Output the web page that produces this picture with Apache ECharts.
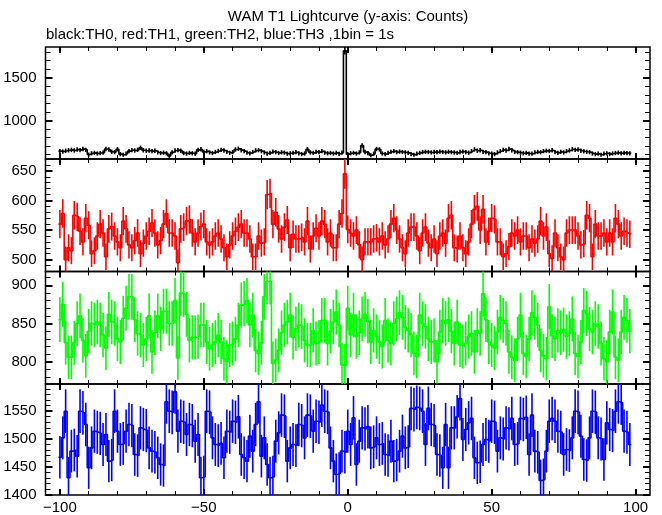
<!DOCTYPE html>
<html><head><meta charset="utf-8">
<script src="https://cdn.jsdelivr.net/npm/echarts@6/dist/echarts.min.js"></script>
<style>html,body{margin:0;padding:0;background:#fff}#c{width:662px;height:515px}</style>
</head><body><div id="c"></div>
<script>
// 1 bin = 1 s, first bin centre at -100 s
const binStart = -100;

// TH0 (black) counts per bin, bins -100 .. 98
const th0 = [
 640,635,645,650,655,648,660,652,665,655,
 600,615,620,612,618,622,665,660,632,628,
 662,605,598,610,640,652,648,655,680,650,
 645,648,640,645,625,618,622,615,585,625,
 648,652,645,618,612,620,615,610,655,662,
 630,640,625,618,630,642,655,648,632,620,
 628,660,668,650,640,622,
 615,630,648,652,640,625,612,620,635,628,
 618,626,622,610,615,620,628,615,605,612,
 662,625,620,632,628,640,622,615,618,612,
 620,608,622,1815,
 605,615,620,612,625,705,630,618,592,610,
 665,660,612,605,620,632,640,628,635,630,
 625,620,605,598,612,620,628,632,630,625,
 630,628,635,630,626,632,628,625,620,630,
 635,628,622,640,660,645,650,632,628,615,
 612,605,625,640,655,648,665,650,630,628,
 622,615,620,612,610,625,630,628,640,645,
 642,650,628,620,632,625,640,648,662,655,
 660,645,638,632,628,612,605,610,598,610,
 615,605,612,618,622,615,620,618,615
];
// TH1 (red)
const th1 = [
 560,578,500,520,515,575,572,548,530,570,
 558,510,515,540,560,545,505,552,556,540,
 530,520,565,552,525,520,532,545,510,528,
 540,548,562,545,525,532,560,578,545,545,
 540,495,552,555,565,568,545,530,545,556,
 560,530,525,530,540,545,535,520,505,525,
 540,548,555,560,545,545,
 535,505,505,540,528,530,610,612,560,580,
 552,535,555,567,520,543,535,535,538,530,
 565,518,540,553,540,565,560,530,545,520,
 520,560,578,645,
 551,545,540,550,525,500,530,530,530,535,
 537,530,540,525,535,560,570,550,535,520,
 510,545,555,555,540,515,545,555,528,520,
 535,510,540,545,528,570,575,520,518,540,
 520,510,530,560,585,590,550,585,530,548,
 570,568,530,530,505,510,522,545,540,550,
 530,540,540,520,535,528,535,565,540,555,
 510,502,545,520,505,500,545,550,550,550,
 540,525,527,575,570,505,560,540,540,545,
 530,545,530,570,560,540,548,545,543
];
// TH2 (green)
const th2 = [
 855,875,825,806,806,825,850,860,828,808,
 840,850,848,852,848,835,818,862,852,850,
 830,826,857,870,885,885,855,837,835,822,
 830,860,813,838,860,843,866,866,850,850,
 880,805,890,888,862,828,832,832,833,848,
 848,826,817,822,826,835,826,804,800,822,
 824,830,848,874,876,880,
 848,861,815,811,825,885,905,905,798,802,
 815,838,848,852,861,832,843,848,846,828,
 822,822,841,824,826,854,854,824,840,852,
 865,848,796,795,
 870,835,861,833,838,856,862,853,826,841,
 833,826,820,854,828,824,850,856,864,858,
 845,841,835,811,807,861,850,846,830,826,
 828,800,839,854,850,855,840,824,852,822,
 820,824,833,837,813,841,837,889,855,826,
 822,818,839,858,854,850,813,806,802,830,
 861,811,807,830,864,858,848,815,808,804,
 872,834,830,841,838,842,833,837,856,811,
 807,826,867,863,843,839,850,846,824,804,
 800,839,865,806,802,839,858,854,840
];
// TH3 (blue)
const th3 = [
 1467,1502,1550,1430,1478,1480,1469,1550,1547,1526,
 1448,1484,1514,1512,1510,1490,1508,1460,1462,1550,
 1514,1490,1492,1514,1526,1524,1472,1470,1520,1517,
 1515,1484,1478,1476,1466,1454,1452,1567,1550,1548,
 1585,1514,1532,1530,1508,1526,1524,1496,1508,1430,
 1432,1550,1548,1502,1490,1488,1492,1466,1514,1512,
 1532,1530,1540,1472,1466,1460,
 1505,1478,1526,1567,1469,1502,1454,1430,1432,1496,
 1511,1543,1541,1460,1484,1490,1488,1526,1524,1502,
 1543,1541,1514,1532,1530,1561,1550,1548,1484,1460,
 1436,1438,1478,1476,
 1514,1490,1538,1454,1496,1520,1518,1522,1484,1486,
 1502,1490,1492,1472,1470,1496,1460,1462,1478,1505,
 1484,1486,1555,1553,1557,1555,1550,1490,1555,1526,
 1524,1472,1470,1448,1526,1448,1520,1520,1540,1573,
 1499,1517,1529,1537,1466,1457,1459,1490,1499,1496,
 1532,1530,1478,1502,1500,1520,1518,1537,1490,1492,
 1537,1535,1539,1472,1543,1478,1476,1425,1427,1478,
 1532,1537,1532,1514,1512,1472,1481,1479,1502,1550,
 1548,1505,1463,1461,1502,1550,1548,1502,1500,1463,
 1529,1517,1515,1550,1567,1565,1514,1512,1490
];

const xMajorTicks = [-100, -50, 0, 50, 100];
const xMinorTicks = [-90, -80, -70, -60, -40, -30, -20, -10, 10, 20, 30, 40, 60, 70, 80, 90];
const yRanges = [[548, 1859], [480, 670], [771, 918], [1399, 1599]];
const yMajorTicks = [
  [1000, 1500],
  [500, 550, 600, 650],
  [800, 850, 900],
  [1400, 1450, 1500, 1550]
];
const yMinorTicks = [
  [600, 700, 800, 900, 1100, 1200, 1300, 1400, 1600, 1700, 1800],
  [490, 510, 520, 530, 540, 560, 570, 580, 590, 610, 620, 630, 640, 660],
  [780, 790, 810, 820, 830, 840, 860, 870, 880, 890, 910],
  [1410, 1420, 1430, 1440, 1460, 1470, 1480, 1490, 1510, 1520, 1530, 1540, 1560, 1570, 1580, 1590]
];
const titleText = 'WAM T1 Lightcurve (y-axis: Counts)';
const subtitleText = 'black:TH0, red:TH1, green:TH2, blue:TH3 ,1bin = 1s';

const FONT = '"Liberation Sans", Arial, Helvetica, sans-serif';
const colors = ['#000000', '#ff0000', '#00ff00', '#0000ff'];
const seriesData = [th0, th1, th2, th3];
const tops = [47, 159, 271.5, 384];
const heights = [112, 112.5, 112.5, 112];

function fmtX(v) { return v < 0 ? '\u2212' + Math.abs(v) : String(v); }
function fmtY(v) { return String(v); }

const grid = [], xAxis = [], yAxis = [], series = [];
for (let k = 0; k < 4; k++) {
  grid.push({ left: 45.5, right: 12, top: tops[k], height: heights[k], show: true,
    borderColor: '#000', borderWidth: 1.5, backgroundColor: 'transparent', containLabel: false });
  const base = xAxis.length;
  for (const pos of ['bottom', 'top']) {
    for (const major of [true, false]) {
      xAxis.push({
        gridIndex: k, type: 'value', min: -105, max: 105, position: pos,
        axisLine: { show: false, onZero: false }, splitLine: { show: false },
        axisTick: { show: true, inside: true, customValues: major ? xMajorTicks : xMinorTicks,
          length: major ? 6 : 4, lineStyle: { color: '#000', width: major ? 2 : 1 } },
        axisLabel: { show: k === 3 && pos === 'bottom' && major, customValues: xMajorTicks,
          formatter: fmtX, color: '#000', fontSize: 15, fontFamily: FONT, margin: 5 }
      });
    }
  }
  const ybase = yAxis.length;
  for (const pos of ['left', 'right']) {
    for (const major of [true, false]) {
      yAxis.push({
        gridIndex: k, type: 'value', min: yRanges[k][0], max: yRanges[k][1], position: pos,
        axisLine: { show: false, onZero: false }, splitLine: { show: false },
        axisTick: { show: true, inside: true, customValues: major ? yMajorTicks[k] : yMinorTicks[k],
          length: major ? 7 : 5, lineStyle: { color: '#000', width: major ? 2 : 1 } },
        axisLabel: { show: pos === 'left' && major, customValues: yMajorTicks[k], formatter: fmtY,
          color: '#000', fontSize: 15, fontFamily: FONT, margin: 9 }
      });
    }
  }
  const vals = seriesData[k];
  const color = colors[k];
  const stepData = [];
  vals.forEach((v, i) => { const t = binStart + i; stepData.push([t - 0.5, v], [t + 0.5, v]); });
  series.push({
    type: 'line', xAxisIndex: base, yAxisIndex: ybase, data: stepData,
    symbol: 'none', showSymbol: false, clip: true, silent: true, animation: false,
    lineStyle: { color: color, width: 1.6 }
  });
  series.push({
    type: 'custom', xAxisIndex: base, yAxisIndex: ybase, clip: true, silent: true, animation: false,
    data: vals.map((v, i) => [binStart + i, v, Math.sqrt(v)]),
    encode: { x: 0, y: 1 },
    renderItem: function (params, api) {
      const x = api.value(0), v = api.value(1), e = api.value(2);
      const p1 = api.coord([x, v - e]), p2 = api.coord([x, v + e]);
      return { type: 'line', shape: { x1: p1[0], y1: p1[1], x2: p2[0], y2: p2[1] },
        style: { stroke: color, lineWidth: 1.6 } };
    }
  });
}

const chart = echarts.init(document.getElementById('c'), null, { renderer: 'canvas' });
chart.setOption({
  animation: false,
  backgroundColor: '#ffffff',
  grid: grid, xAxis: xAxis, yAxis: yAxis, series: series,
  graphic: [
    { type: 'text', x: 348, y: 17, style: { text: titleText, font: '15px ' + FONT, fill: '#000',
      textAlign: 'center', textVerticalAlign: 'middle', align: 'center', verticalAlign: 'middle' } },
    { type: 'text', x: 46, y: 35, style: { text: subtitleText, font: '15px ' + FONT, fill: '#000',
      textAlign: 'left', textVerticalAlign: 'middle', align: 'left', verticalAlign: 'middle' } }
  ]
});
</script>
</body></html>
